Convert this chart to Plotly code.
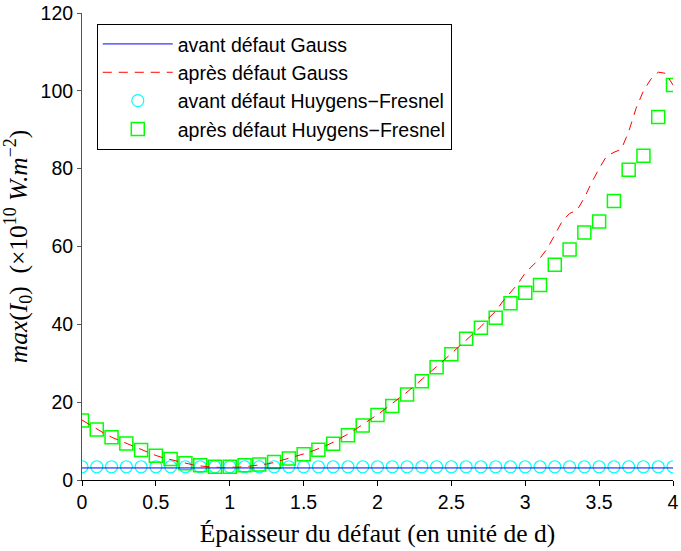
import plotly.graph_objects as go

# ---- data ----
x_hf = [round(0.1 * i, 1) for i in range(41)]
avant_hf = [3.4] * 41
apres_hf = [15.3, 13.0, 11.0, 9.4, 7.7, 6.2, 5.4, 4.3, 3.8, 3.4,
            3.4, 3.8, 4.0, 4.6, 5.5, 6.6, 7.8, 9.3, 11.5, 14.0,
            16.7, 19.0, 22.0, 25.4, 29.0, 32.3, 36.3, 39.1, 41.7, 45.4,
            48.1, 50.1, 55.3, 59.2, 63.6, 66.4, 71.7, 79.7, 83.3, 93.3,
            101.5]

x_gauss = [round(0.05 * i, 2) for i in range(81)]
avant_gauss = [3.1] * 81
apres_gauss = [15.4, 14.2, 13.0, 12.0, 11.0, 10.2, 9.4, 8.6, 7.8, 7.0,
               6.3, 5.7, 5.2, 4.7, 4.3, 3.9, 3.6, 3.4, 3.3, 3.2,
               3.2, 3.3, 3.4, 3.6, 3.8, 4.1, 4.5, 5.0, 5.5, 6.1,
               6.7, 7.3, 8.0, 8.8, 9.7, 10.7, 11.8, 13.0, 14.2, 15.5,
               16.8, 18.2, 19.6, 21.1, 22.6, 24.2, 25.8, 27.4, 29.1, 30.8,
               32.5, 34.2, 35.9, 37.6, 39.4, 41.5, 43.4, 46.0, 48.2, 50.4,
               53.2, 55.2, 57.0, 59.5, 63.2, 66.5, 68.5, 69.3, 72.5, 76.5,
               80.0, 83.2, 84.2, 85.0, 89.5, 95.5, 100.0, 103.0, 104.8, 104.5,
               101.5]

x_ticks = [0, 0.5, 1, 1.5, 2, 2.5, 3, 3.5, 4]
x_ticklabels = ["0", "0.5", "1", "1.5", "2", "2.5", "3", "3.5", "4"]
y_ticks = [0, 20, 40, 60, 80, 100, 120]
y_ticklabels = ["0", "20", "40", "60", "80", "100", "120"]

names = ["avant défaut Gauss", "après défaut Gauss",
         "avant défaut Huygens−Fresnel", "après défaut Huygens−Fresnel"]

fig = go.Figure()
fig.add_trace(go.Scatter(x=x_hf, y=avant_hf, mode="markers", name=names[2],
                         legendrank=3,
                         marker=dict(symbol="circle-open", size=12, color="#00FFFF",
                                     line=dict(width=1.2, color="#00FFFF"))))
fig.add_trace(go.Scatter(x=x_hf, y=apres_hf, mode="markers", name=names[3],
                         legendrank=4,
                         marker=dict(symbol="square-open", size=13, color="#00FF00",
                                     line=dict(width=1.5, color="#00FF00"))))
fig.add_trace(go.Scatter(x=x_gauss, y=avant_gauss, mode="lines", name=names[0],
                         legendrank=1,
                         line=dict(color="#0000FF", width=1)))
fig.add_trace(go.Scatter(x=x_gauss, y=apres_gauss, mode="lines", name=names[1],
                         legendrank=2,
                         line=dict(color="#FF0000", width=1, dash="9px,7px")))

serif = "Liberation Serif, Times New Roman, serif"
sans = "Liberation Sans, Arial, sans-serif"

fig.update_layout(
    width=681, height=551,
    margin=dict(l=82, r=8, t=13, b=71, autoexpand=False),
    paper_bgcolor="white", plot_bgcolor="white",
    font=dict(family=sans, size=19, color="black"),
    showlegend=True,
    legend=dict(x=0.025, y=0.977, xanchor="left", yanchor="top",
                bgcolor="white", bordercolor="black", borderwidth=1,
                font=dict(family=sans, size=19.5),
                itemwidth=70, traceorder="normal"),
    xaxis=dict(range=[0, 4], tickvals=x_ticks, ticktext=x_ticklabels,
               automargin=False,
               showline=True, linecolor="black", linewidth=1,
               ticks="outside", ticklen=5, tickcolor="black",
               showgrid=False, zeroline=False, mirror=False,
               tickfont=dict(family=sans, size=19.5),
               ticklabeloverflow="allow",
               title=dict(text="Épaisseur du défaut (en unité de d)",
                          font=dict(family=serif, size=25.5),
                          standoff=11)),
    yaxis=dict(range=[0, 120], tickvals=y_ticks, ticktext=y_ticklabels,
               automargin=False,
               showline=True, linecolor="#555555", linewidth=1,
               ticks="outside", ticklen=4, tickcolor="#555555",
               showgrid=False, zeroline=False, mirror=False,
               tickfont=dict(family=sans, size=19.5),
               ticklabeloverflow="allow",
               title=dict(text="<i>max</i>(<i>I</i><sub>0</sub>)  (×10<sup>10</sup> <i>W.m</i><sup>−2</sup>)",
                          font=dict(family=serif, size=25.5),
                          standoff=5)),
)

fig.write_html("out.html", config={"displayModeBar": False},
               post_script="document.body.style.margin='0';")
